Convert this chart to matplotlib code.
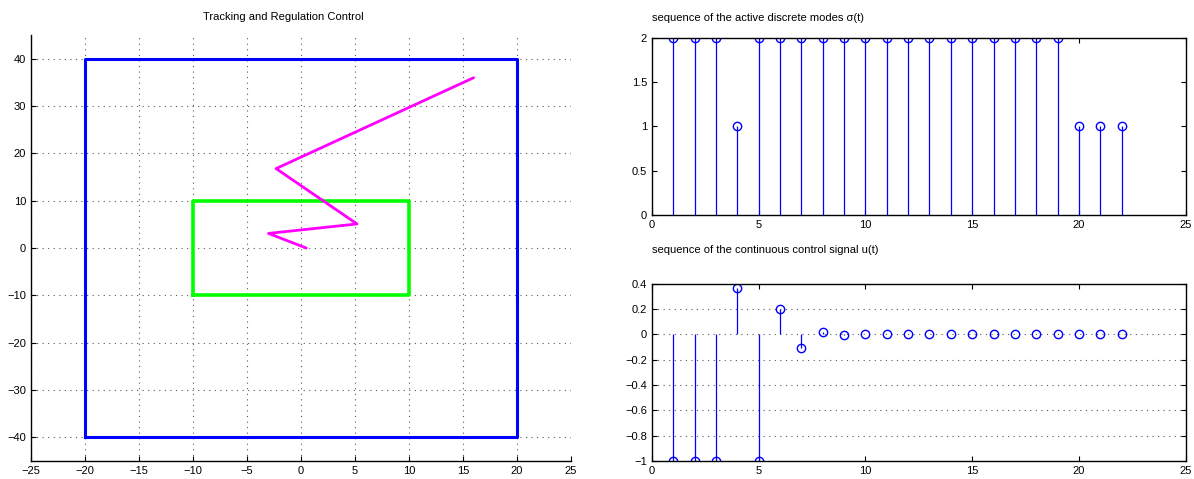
import matplotlib
matplotlib.use('Agg')
from matplotlib import pyplot as plt

plt.rcParams['font.family'] = ['Liberation Sans', 'DejaVu Sans']
plt.rcParams['font.size'] = 8
plt.rcParams['xtick.direction'] = 'in'
plt.rcParams['ytick.direction'] = 'in'
plt.rcParams['axes.linewidth'] = 1.0

# regions and trajectory (left panel)
outerX = [-20, 20, 20, -20, -20]
outerY = [-40, -40, 40, 40, -40]
innerX = [-10, 10, 10, -10, -10]
innerY = [-10, -10, 10, 10, -10]
pathX = [0.5, -3.0, 5.2, -2.3, 16.0]
pathY = [0.0, 3.1, 5.1, 16.8, 36.0]

# discrete modes and control signal (right panels)
steps = list(range(1, 23))
modes = [2, 2, 2, 1, 2, 2, 2, 2, 2, 2, 2, 2, 2, 2, 2, 2, 2, 2, 2, 1, 1, 1]
control = [-1, -1, -1, 0.37, -1, 0.2, -0.11, 0.015, -0.003,
           0, 0, 0, 0, 0, 0, 0, 0, 0, 0, 0, 0, 0]

gridStyle = dict(linestyle=(0, (1, 4)), color='0.35', linewidth=0.8)

fig = plt.figure(figsize=(11.94, 4.79), dpi=100)

# ---- left: tracking and regulation ----
ax1 = fig.add_axes([0.026, 0.0376, 0.452, 0.889])
ax1.plot(outerX, outerY, color='blue', linewidth=2.2)
ax1.plot(innerX, innerY, color='lime', linewidth=2.6)
ax1.plot(pathX, pathY, color='magenta', linewidth=2.0, solid_capstyle='round')
ax1.set_xlim(-25, 25)
ax1.set_ylim(-45, 45)
ax1.set_xticks(range(-25, 26, 5))
ax1.set_yticks(range(-40, 41, 10))
ax1.grid(True, **gridStyle)
ax1.spines['top'].set_visible(False)
ax1.spines['right'].set_visible(False)
fig.text(283 / 1194, 1 - 17 / 479, 'Tracking and Regulation Control',
         ha='center', va='center', fontsize=8)

# ---- right top: discrete modes ----
ax2 = fig.add_axes([0.546, 0.551, 0.447, 0.370])
m, s, b = ax2.stem(steps, modes, basefmt=' ')
plt.setp(m, markerfacecolor='none', markeredgecolor='blue', markersize=6, markeredgewidth=1.0)
plt.setp(s, color='blue', linewidth=0.9)
ax2.set_xlim(0, 25)
ax2.set_ylim(0, 2)
ax2.set_xticks(range(0, 26, 5))
ax2.set_yticks([0, 0.5, 1, 1.5, 2])
ax2.set_yticklabels(['0', '0.5', '1', '1.5', '2'])
ax2.tick_params(top=True, right=True)
ax2.set_title('sequence of the active discrete modes σ(t)', loc='left', fontsize=8, pad=12)

# ---- right bottom: control signal ----
ax3 = fig.add_axes([0.546, 0.0376, 0.447, 0.370])
m, s, b = ax3.stem(steps, control, basefmt=' ')
plt.setp(m, markerfacecolor='none', markeredgecolor='blue', markersize=6, markeredgewidth=1.0)
plt.setp(s, color='blue', linewidth=0.9)
ax3.set_xlim(0, 25)
ax3.set_ylim(-1, 0.4)
ax3.set_xticks(range(0, 26, 5))
ax3.set_yticks([0.4, 0.2, 0, -0.2, -0.4, -0.6, -0.8, -1])
ax3.set_yticklabels(['0.4', '0.2', '0', '\u22120.2', '\u22120.4', '\u22120.6', '\u22120.8', '\u22121'])
ax3.yaxis.grid(True, **gridStyle)
ax3.set_axisbelow(True)
ax3.tick_params(top=True, right=True)
ax3.set_title('sequence of the continuous control signal u(t)', loc='left', fontsize=8, pad=22)

plt.savefig('out.png')
plt.close()
